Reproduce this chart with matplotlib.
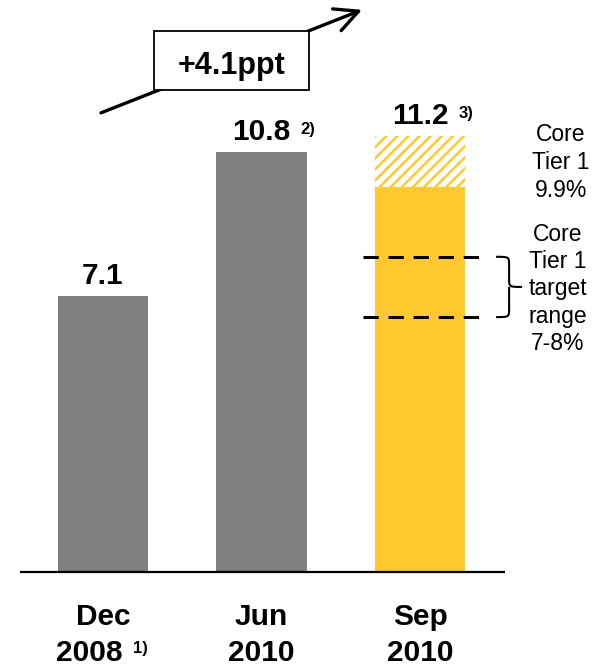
import matplotlib.pyplot as plt
from matplotlib.patches import Rectangle, PathPatch
from matplotlib.path import Path

plt.rcParams['font.family'] = ['Liberation Sans', 'DejaVu Sans']
plt.rcParams['hatch.linewidth'] = 1.8

# data
periods = ['Dec', 'Jun', 'Sep']
years = ['2008', '2010', '2010']
year_notes = ['1)', '', '']
totals = [7.1, 10.8, 11.2]
value_notes = ['', '2)', '3)']
core_tier1 = 9.9
target_lines = [8.1, 6.55]
change_label = '+4.1ppt'

grey = '#808080'
yellow = '#FFC92F'

fig = plt.figure(figsize=(6.04, 6.66), dpi=100)
ax = fig.add_axes([0, 0, 1, 1])
ax.set_xlim(-0.65, 3.16)
ax.set_ylim(-2.417, 14.70)
ax.axis('off')


def px(p):
    # horizontal pixel -> data x
    return -0.65 + p / 158.5


def py(p):
    # vertical pixel (from top) -> data y
    return (572 - p) / 38.9


x = list(range(len(totals)))
w = 0.57

# bars: first two grey, last one solid core tier 1 plus hatched remainder
ax.bar(x[:2], totals[:2], width=w, color=grey, linewidth=0)
ax.bar(x[2], core_tier1, width=w, color=yellow, linewidth=0)
ax.bar(x[2], totals[2] - core_tier1, bottom=core_tier1, width=w,
       facecolor='white', edgecolor=yellow, hatch='///', linewidth=0)

# baseline
ax.plot([px(20), px(505)], [0, 0], color='black', lw=1.6, solid_capstyle='butt')

# value labels
for xi, v, note in zip(x, totals, value_notes):
    ax.annotate(f'{v:.1f}', (xi, v), xytext=(0, 8.5), textcoords='offset points',
                ha='center', va='baseline', fontsize=21.5, fontweight='bold')
    if note:
        ax.annotate(note, (xi + 0.245, v), xytext=(0, 13), textcoords='offset points',
                    ha='left', va='baseline', fontsize=12, fontweight='bold')

# category labels (year plus note centred as one unit)
for xi, p, yr, note in zip(x, periods, years, year_notes):
    ax.text(xi, py(625), p, ha='center', va='baseline', fontsize=21.5, fontweight='bold')
    if note:
        ax.text(xi + 0.12, py(661), yr, ha='right', va='baseline', fontsize=21.5,
                fontweight='bold')
        ax.text(xi + 0.19, py(653), note, ha='left', va='baseline', fontsize=12,
                fontweight='bold')
    else:
        ax.text(xi, py(661), yr, ha='center', va='baseline', fontsize=21.5,
                fontweight='bold')

# target range dashed lines and brace
for ty in target_lines:
    ax.plot([px(363), px(487)], [ty, ty], color='black', lw=2.2,
            linestyle=(0, (5, 3.2)))

top, bot = target_lines
mid = (top + bot) / 2
r = 0.22
bx0, bx1, bx2 = px(496), px(509), px(522)
verts = [(bx0, top), (bx1, top), (bx1, top), (bx1, top - r),
         (bx1, mid + r),
         (bx1, mid), (bx1, mid), (bx2, mid),
         (bx1, mid), (bx1, mid), (bx1, mid - r),
         (bx1, bot + r),
         (bx1, bot), (bx1, bot), (bx0, bot)]
codes = [Path.MOVETO, Path.CURVE4, Path.CURVE4, Path.CURVE4,
         Path.LINETO,
         Path.CURVE4, Path.CURVE4, Path.CURVE4,
         Path.MOVETO, Path.CURVE4, Path.CURVE4,
         Path.LINETO,
         Path.CURVE4, Path.CURVE4, Path.CURVE4]
ax.add_patch(PathPatch(Path(verts, codes), facecolor='none', edgecolor='black', lw=1.5))

# side notes
ax.text(px(561), py(197), 'Core\nTier 1\n9.9%', ha='center', va='baseline',
        fontsize=16.5, linespacing=1.27)
ax.text(px(558), py(350), 'Core\nTier 1\ntarget\nrange\n7-8%', ha='center',
        va='baseline', fontsize=16.5, linespacing=1.24)

# growth arrow with boxed label
ax.annotate('', xy=(px(362), py(10)), xytext=(px(101), py(113)),
            arrowprops=dict(arrowstyle='->', lw=2.4, color='black', mutation_scale=42,
                            shrinkA=0, shrinkB=0))
bx_l, bx_r = px(154), px(309)
by_b, by_t = py(90), py(31)
ax.add_patch(Rectangle((bx_l, by_b), bx_r - bx_l, by_t - by_b, facecolor='white',
                       edgecolor='black', lw=1.3, zorder=3))
ax.text((bx_l + bx_r) / 2, py(74), change_label, ha='center', va='baseline',
        fontsize=22, fontweight='bold', zorder=4)

fig.savefig('out.png', dpi=100)
